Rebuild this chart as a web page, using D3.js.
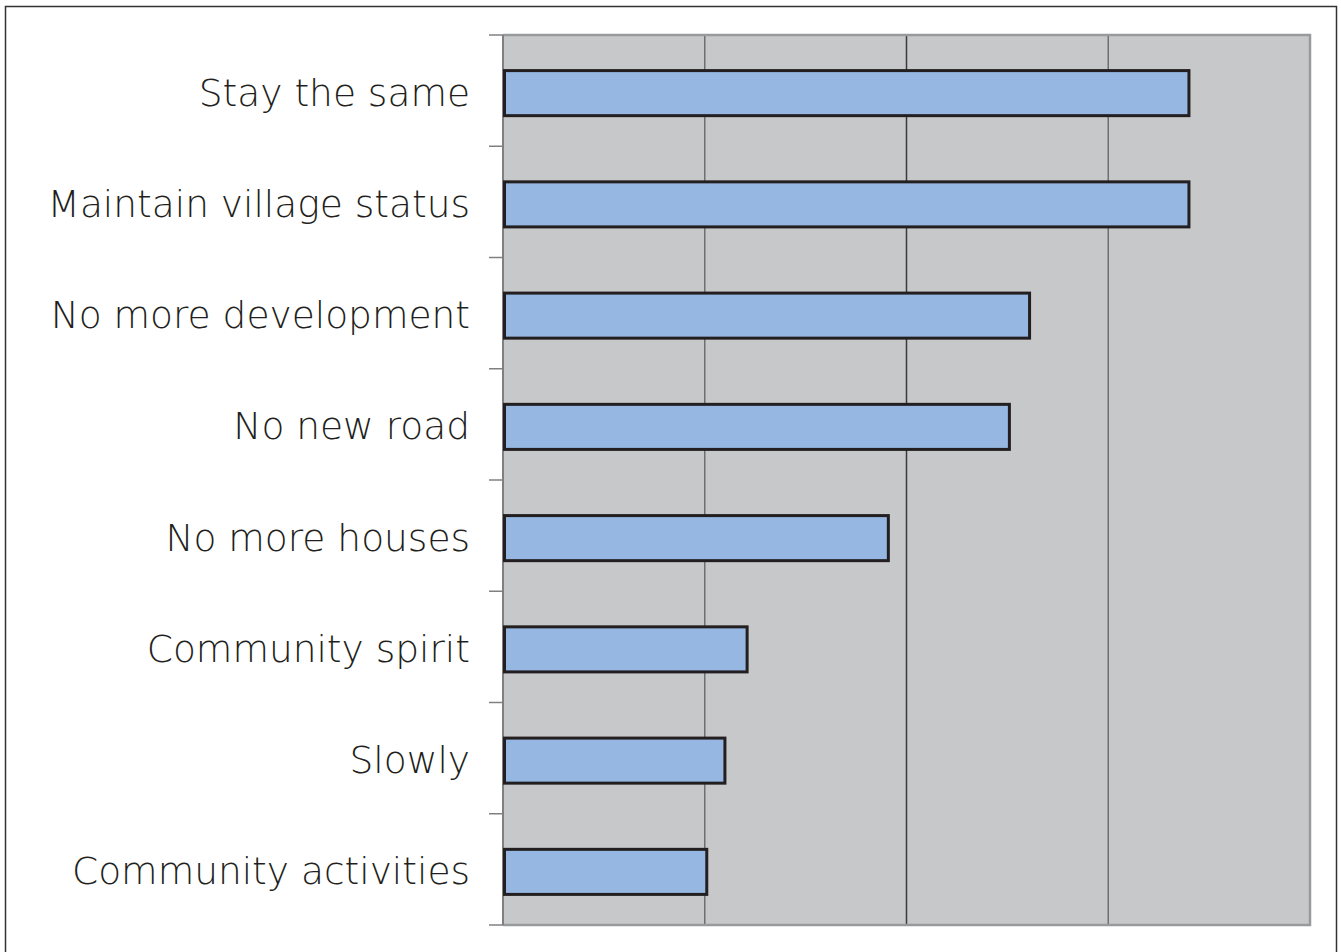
<!DOCTYPE html>
<html>
<head>
<meta charset="utf-8">
<script src="https://cdn.jsdelivr.net/npm/d3@7"></script>
<style>
  body { margin: 0; background: #fff; }
  svg { display: block; }
</style>
</head>
<body>
<div id="chart"></div>
<script>
// categories top to bottom
var categories = ["Stay the same", "Maintain village status", "No more development",
    "No new road", "No more houses", "Community spirit", "Slowly", "Community activities"];
var values = [34, 34, 26.1, 25.1, 19.1, 12.1, 11, 10.1];
var xTicks = [0, 10, 20, 30, 40];

var width = 1341,
    height = 952,
    plot = {left: 503, top: 35, right: 1310, bottom: 925};

var svg = d3.select("#chart")
    .append("svg")
    .attr("width", width)
    .attr("height", height);

// outer frame (bottom edge runs off the page)
svg.append("rect")
    .attr("x", 5.5).attr("y", 6.5)
    .attr("width", 1331).attr("height", 960)
    .attr("fill", "none")
    .attr("stroke", "#333")
    .attr("stroke-width", 1.5);

var x = d3.scaleLinear()
    .domain([0, 40])
    .range([plot.left, plot.right]);

// bars sit a touch below the band centres
var y = d3.scaleBand()
    .domain(categories)
    .range([plot.top + 2.5, plot.bottom + 2.5])
    .paddingInner(0.595)
    .paddingOuter(0.2975);

// plot background
svg.append("rect")
    .attr("x", plot.left).attr("y", plot.top)
    .attr("width", plot.right - plot.left)
    .attr("height", plot.bottom - plot.top)
    .attr("fill", "#c7c8ca");

// vertical gridlines
svg.selectAll(".grid")
    .data(xTicks.slice(1, -1))
    .enter().append("line")
    .attr("class", "grid")
    .attr("x1", function(d) { return x(d); })
    .attr("x2", function(d) { return x(d); })
    .attr("y1", plot.top).attr("y2", plot.bottom)
    .attr("stroke", function(d) { return d == 20 ? "#3a3a3a" : "#6f6f6f"; })
    .attr("stroke-width", 1.5);

// plot border top/right/bottom
svg.append("path")
    .attr("d", "M" + plot.left + "," + plot.top + "H" + plot.right + "V" + plot.bottom + "H" + plot.left)
    .attr("fill", "none")
    .attr("stroke", "#999a9c")
    .attr("stroke-width", 2.5);

// left axis with ticks at band boundaries
var bounds = d3.range(categories.length + 1).map(function(i) {
    return plot.top + i * (plot.bottom - plot.top) / categories.length;
});
svg.append("line")
    .attr("x1", plot.left).attr("x2", plot.left)
    .attr("y1", plot.top).attr("y2", plot.bottom)
    .attr("stroke", "#808080").attr("stroke-width", 2);
svg.selectAll(".tick")
    .data(bounds)
    .enter().append("line")
    .attr("class", "tick")
    .attr("x1", 489).attr("x2", plot.left)
    .attr("y1", function(d) { return d; })
    .attr("y2", function(d) { return d; })
    .attr("stroke", "#808080").attr("stroke-width", 1.5);

// bars
svg.selectAll(".bar")
    .data(values)
    .enter().append("rect")
    .attr("class", "bar")
    .attr("x", x(0) + 1.5)
    .attr("y", function(d, i) { return y(categories[i]); })
    .attr("width", function(d) { return x(d) - x(0) - 1.5; })
    .attr("height", y.bandwidth())
    .attr("fill", "#96b7e1")
    .attr("stroke", "#231f20")
    .attr("stroke-width", 3);

// category labels
svg.selectAll(".label")
    .data(categories)
    .enter().append("text")
    .attr("class", "label")
    .attr("x", 470)
    .attr("y", function(d, i) { return bounds[i] + (bounds[i + 1] - bounds[i]) / 2 + 15; })
    .attr("text-anchor", "end")
    .attr("font-family", "'DejaVu Sans', sans-serif")
    .attr("font-weight", 200)
    .attr("font-size", 37.5)
    .attr("fill", "#231f20")
    .text(function(d) { return d; });
</script>
</body>
</html>
